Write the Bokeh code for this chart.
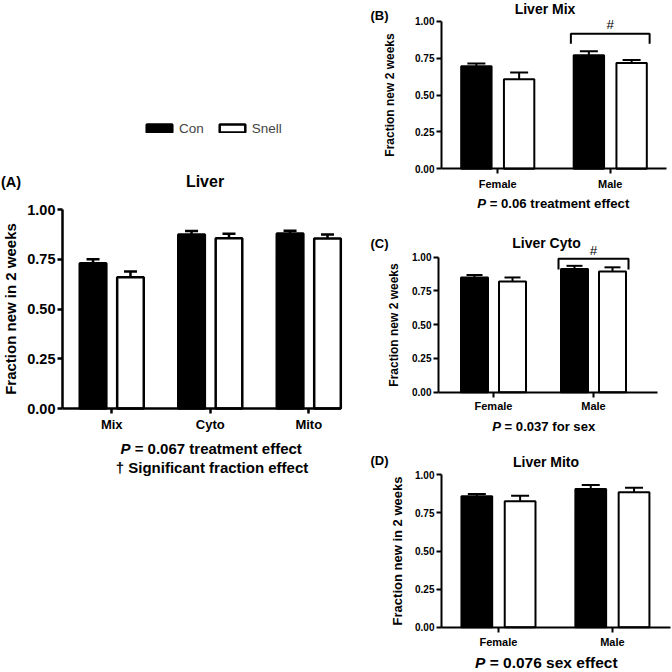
from bokeh.plotting import figure
from bokeh.models import ColumnDataSource, FixedTicker, Whisker, TeeHead, Label, Legend, LegendItem, Range1d
from bokeh.layouts import row, column
from bokeh.embed import file_html
from bokeh.resources import INLINE

# ---------------- data ----------------
fractions = ["Mix", "Cyto", "Mito"]
liver_con = [0.73, 0.875, 0.88]
liver_con_err = [0.02, 0.017, 0.013]
liver_snell = [0.66, 0.856, 0.854]
liver_snell_err = [0.029, 0.022, 0.021]

sexes = ["Female", "Male"]
mix_con = [0.695, 0.77]
mix_con_err = [0.018, 0.027]
mix_snell = [0.607, 0.717]
mix_snell_err = [0.045, 0.02]

cyto_con = [0.85, 0.912]
cyto_con_err = [0.018, 0.024]
cyto_snell = [0.82, 0.895]
cyto_snell_err = [0.03, 0.03]

mito_con = [0.86, 0.907]
mito_con_err = [0.014, 0.026]
mito_snell = [0.826, 0.885]
mito_snell_err = [0.037, 0.03]

y_ticks = [0.0, 0.25, 0.5, 0.75, 1.0]
y_tick_labels = ["0.00", "0.25", "0.50", "0.75", "1.00"]

series_names = ["Con", "Snell"]

# significance brackets: (group, bracket height, drop, mark)
mix_bracket = ("Male", 0.915, 0.068, "#")
cyto_bracket = ("Male", 0.988, 0.079, "#")

FONT = "Liberation Sans"
OFF = 0.19         # dodge of the two bars
BW = 0.27          # bar width


class Geo:
    """Maps page pixel positions into one figure's screen space and data ranges."""
    def __init__(self, W, H, ox, oy, plot_px, data_x):
        self.W, self.H, self.ox, self.oy = W, H, ox, oy
        xl, xr, yt, yb = plot_px
        pl, pr = xl - ox, xr - ox
        pt, pb = yt - oy, yb - oy
        x0, x1 = data_x
        kx = (x1 - x0) / (pr - pl)
        ky = 1.0 / (pb - pt)
        self.x_range = (x0 - pl * kx, x1 + (W - pr) * kx)
        self.y_range = (-(H - pb) * ky, 1 + pt * ky)
        self.data_x = data_x

    def sx(self, x):
        return x - self.ox

    def sy(self, y):
        return self.H - (y - self.oy)


def make_panel(g, cats, first, con, con_err, snell, snell_err, lw, tick_size,
               ylab_size, ylab_standoff, ylab, x_standoff, tee):
    p = figure(width=g.W, height=g.H, output_backend="svg", toolbar_location=None,
               min_border=0, x_range=Range1d(*g.x_range), y_range=Range1d(*g.y_range))
    p.outline_line_color = None
    p.xgrid.grid_line_color = None
    p.ygrid.grid_line_color = None
    p.background_fill_color = "white"
    p.border_fill_color = "white"
    pos = [first + i for i in range(len(cats))]
    xc = [x - OFF for x in pos]
    xs = [x + OFF for x in pos]
    rc = p.vbar(x=xc, top=con, width=BW, fill_color="black", line_color="black", line_width=lw)
    rs = p.vbar(x=xs, top=snell, width=BW, fill_color="white", line_color="black", line_width=lw)
    for xx, vals, errs in ((xc, con, con_err), (xs, snell, snell_err)):
        src = ColumnDataSource(dict(base=xx, lower=vals, upper=[v + e for v, e in zip(vals, errs)]))
        w = Whisker(base="base", lower="lower", upper="upper", source=src, dimension="height",
                    line_color="black", line_width=lw, lower_head=None,
                    upper_head=TeeHead(size=tee, line_color="black", line_width=lw), level="overlay")
        p.add_layout(w)
    p.xaxis.ticker = FixedTicker(ticks=pos)
    p.xaxis.major_label_overrides = {x: c for x, c in zip(pos, cats)}
    p.yaxis.ticker = FixedTicker(ticks=y_ticks)
    p.yaxis.major_label_overrides = {t_: s_ for t_, s_ in zip(y_ticks, y_tick_labels)}
    p.xaxis.fixed_location = 0
    p.xaxis.bounds = g.data_x
    p.yaxis.fixed_location = g.data_x[0]
    p.yaxis.bounds = (0, 1)
    for ax in (p.xaxis[0], p.yaxis[0]):
        ax.axis_line_width = lw
        ax.axis_line_color = "black"
        ax.major_tick_line_width = lw
        ax.major_tick_line_color = "black"
        ax.major_tick_out = 5
        ax.major_tick_in = 0
        ax.minor_tick_line_color = None
        ax.major_label_text_font = FONT
        ax.major_label_text_font_style = "bold"
        ax.major_label_text_color = "black"
    p.xaxis.major_label_text_font_size = tick_size[0]
    p.yaxis.major_label_text_font_size = tick_size[1]
    p.xaxis.major_label_standoff = x_standoff
    p.yaxis.major_label_standoff = 2
    p.yaxis.axis_label = ylab
    p.yaxis.axis_label_text_font = FONT
    p.yaxis.axis_label_text_font_style = "bold"
    p.yaxis.axis_label_text_font_size = ylab_size
    p.yaxis.axis_label_text_color = "black"
    p.yaxis.axis_label_standoff = ylab_standoff
    return p, pos, rc, rs


def page_label(p, g, text, x, y, size, align="center", style="bold"):
    p.add_layout(Label(x=g.sx(x), y=g.sy(y), x_units="screen", y_units="screen",
                       text=text, text_font=FONT, text_font_size=size, text_font_style=style,
                       text_align=align, text_baseline="middle", text_color="black"))


def p_label(p, g, x, y, size_px, rest):
    size = "%.1fpx" % size_px
    page_label(p, g, "P", x, y, size, align="left", style="bold italic")
    page_label(p, g, rest, x + 0.945 * size_px, y, size, align="left")


def add_bracket(p, cats, first, br, lw):
    grp, yb, drop, mark = br
    c = first + cats.index(grp)
    x0, x1 = c - 0.35, c + 0.35
    p.line(x=[x0, x0, x1, x1], y=[yb - drop, yb, yb, yb - drop], line_color="black", line_width=lw)
    p.add_layout(Label(x=c, y=yb + 0.06, text=mark, text_font=FONT, text_font_size="13.5px",
                       text_align="center", text_baseline="middle", text_color="black"))


# ---------------- panel A ----------------
gA = Geo(359, 671, 0, 0, (62, 340, 209, 408), (0.5, 3.322))
pA, posA, rcA, rsA = make_panel(gA, fractions, 1, liver_con, liver_con_err, liver_snell, liver_snell_err,
                                2.5, ("13px", "14.5px"), "15px", 5, "Fraction new in 2 weeks", 3, 13)
page_label(pA, gA, "(A)", 0.5, 181.7, "14.5px", align="left")
page_label(pA, gA, "Liver", 204.5, 181, "16px")
p_label(pA, gA, 120, 448, 15, "= 0.067 treatment effect")
page_label(pA, gA, "\u2020 Significant fraction effect", 211.5, 467, "15px")
legend = Legend(items=[LegendItem(label=series_names[0], renderers=[rcA]),
                       LegendItem(label=series_names[1], renderers=[rsA])],
                location=(gA.sx(143), gA.sy(135.5)), orientation="horizontal",
                border_line_color=None, background_fill_alpha=0, padding=0, margin=0,
                spacing=12, label_standoff=4, glyph_width=32, glyph_height=10,
                label_height=10, label_text_font=FONT, label_text_font_size="13.5px")
pA.add_layout(legend)

# ---------------- panel B ----------------
gB = Geo(312, 215, 359, 0, (441, 666, 20.7, 168.3), (0, 2))
pB, posB, _, _ = make_panel(gB, sexes, 0.5, mix_con, mix_con_err, mix_snell, mix_snell_err,
                            2, ("11px", "10px"), "12px", 15, "Fraction new 2 weeks", 4, 18)
page_label(pB, gB, "(B)", 370, 15, "13px", align="left")
page_label(pB, gB, "Liver Mix", 544.5, 8.5, "14px")
p_label(pB, gB, 476.7, 202.7, 13.2, "= 0.06 treatment effect")
add_bracket(pB, sexes, 0.5, mix_bracket, 2)

# ---------------- panel C ----------------
gC = Geo(312, 222, 359, 215, (438, 657, 256.7, 391.7), (-0.05, 2.14))
pC, posC, _, _ = make_panel(gC, sexes, 0.5, cyto_con, cyto_con_err, cyto_snell, cyto_snell_err,
                            2, ("11px", "10px"), "12px", 8, "Fraction new 2 weeks", 3, 16)
page_label(pC, gC, "(C)", 370, 243.3, "13px", align="left")
page_label(pC, gC, "Liver Cyto", 546, 242.3, "14px")
p_label(pC, gC, 491.7, 426, 13.1, "= 0.037 for sex")
add_bracket(pC, sexes, 0.5, cyto_bracket, 2)

# ---------------- panel D ----------------
gD = Geo(312, 234, 359, 437, (441, 670, 474.3, 626.7), (0, 2.01))
pD, posD, _, _ = make_panel(gD, sexes, 0.5, mito_con, mito_con_err, mito_snell, mito_snell_err,
                            2, ("11px", "10px"), "13px", 7, "Fraction new in 2 weeks", 4, 18)
page_label(pD, gD, "(D)", 370, 460, "13px", align="left")
page_label(pD, gD, "Liver Mito", 545.5, 461.7, "14px")
p_label(pD, gD, 474.5, 661.7, 15.5, "= 0.076 sex effect")

layout = row(pA, column(pB, pC, pD))
open("out.html", "w").write(file_html(layout, INLINE))
